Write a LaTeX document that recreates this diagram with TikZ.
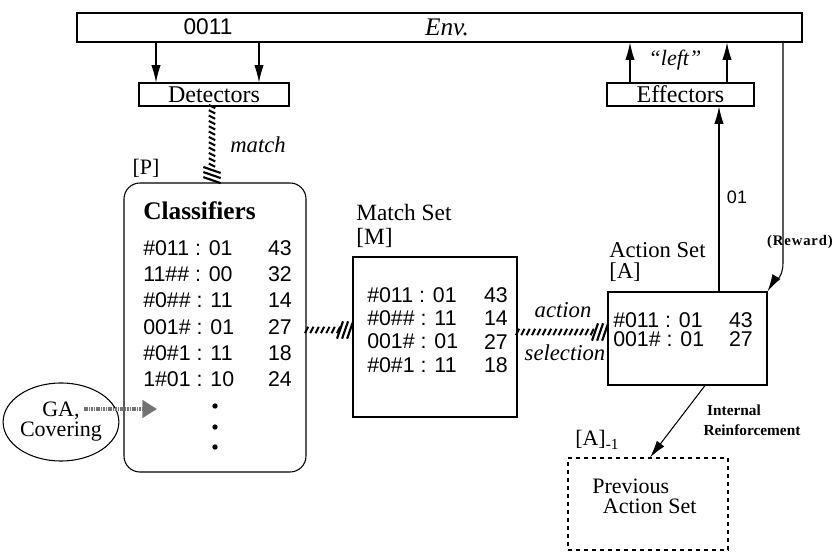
\documentclass[tikz,border=0pt]{standalone}
\usepackage{fontspec}
\setmainfont{Liberation Serif}
\newfontfamily\hv{Liberation Sans}
\usetikzlibrary{arrows.meta,shapes.geometric,decorations.markings}

\begin{document}
\begin{tikzpicture}[x=0.75pt,y=-0.75pt,
  box/.style={draw=black,line width=0.8pt,inner sep=0pt},
  arr/.style={line width=0.8pt,-{Latex[length=13pt,width=7pt]}},
  hatch/.style={decoration={markings,
      mark=between positions 0 and -9pt step 4pt with
        {\draw[line width=1.5pt] (-1.2pt,-2.4pt) -- (1.2pt,2.4pt);},
      mark=at position 1 with
        {\foreach \k in {0,3.8,7.6} \draw[line width=1.6pt] ({-\k*1pt-4pt},-6.5pt) -- ({-\k*1pt+0.5pt},6.5pt);}},
    decorate},
  rowtxt/.style={font=\hv\fontsize{16}{18}\selectfont,inner sep=0pt},
  lbl/.style={font=\fontsize{16.5}{18}\selectfont,inner sep=0pt},
  ital/.style={font=\itshape\fontsize{17}{18}\selectfont,inner sep=0pt},
  tiny/.style={font=\bfseries\fontsize{11.5}{12}\selectfont,inner sep=0pt}]

  \useasboundingbox (0,0) rectangle (840,552);

  % boxes
  \node[box,minimum width=543.75pt,minimum height=21.75pt] (env) at (439.5,27.5) {};
  \node[box,lbl,font=\fontsize{18}{20}\selectfont,minimum width=112.5pt,minimum height=17.25pt] (det) at (214,94.5) {Detectors};
  \node[box,lbl,font=\fontsize{18}{20}\selectfont,minimum width=110.25pt,minimum height=17.25pt] (eff) at (680.5,94.5) {Effectors};
  \node[box,rounded corners=12pt,minimum width=136.5pt,minimum height=216.75pt] (cls) at (215,327.5) {};
  \node[box,minimum width=123pt,minimum height=120pt] (mset) at (435,337) {};
  \node[box,minimum width=119.25pt,minimum height=69.75pt] (aset) at (687.5,338.5) {};
  \node[box,dashed,minimum width=120pt,minimum height=69pt] (prev) at (648,504) {};
  \node[box,ellipse,align=center,font=\fontsize{16.5}{15}\selectfont,
        minimum width=72.75pt,minimum height=58.5pt] (ga) at (61,422) {GA,\\Covering};

  % texts
  \node[rowtxt,font=\hv\fontsize{17}{18}\selectfont] (bits) at (208,27) {0011};
  \node[ital,font=\itshape\fontsize{19}{20}\selectfont] (envtxt) at (447,27) {Env.};
  \node[ital,font=\itshape\fontsize{16.5}{18}\selectfont] (left) at (675,60) {“left”};
  \node[ital] (match) at (258,145) {match};
  \node[lbl] (plbl) at (146,168) {[P]};
  \node[lbl,anchor=west,font=\bfseries\fontsize{19}{20}\selectfont] (clstitle) at (143,211) {Classifiers};
  \node[lbl,anchor=north west,align=left,font=\fontsize{17.5}{18}\selectfont] (msettitle) at (356,204) {Match Set\\{}[M]};
  \node[lbl,anchor=north west,align=left,font=\fontsize{17}{16}\selectfont] (asettitle) at (609,242) {Action Set\\{}[A]};
  \node[ital] (action) at (563,310) {action};
  \node[ital] (selection) at (565,353) {selection};
  \node[rowtxt,font=\hv\fontsize{13.5}{16}\selectfont] (out) at (737,197) {01};
  \node[tiny,font=\bfseries\fontsize{11}{12}\selectfont] (reward) at (800,242) {\addfontfeature{LetterSpace=6}(Reward)};
  \node[tiny] (internal) at (734,410) {Internal};
  \node[tiny] (reinf) at (752,430) {Reinforcement};
  \node[lbl,anchor=west] (prevlbl) at (575,440) {[A]\textsubscript{-1}};
  \node[lbl,anchor=north west,align=left,font=\fontsize{16.5}{15}\selectfont] (prevtxt) at (592,479) {Previous\\\hspace*{8pt}Action Set};

  % classifier lists
  \foreach \p/\s [count=\i] in {\#011 : 01/43, 11\#\# : 00/32, \#0\#\# : 11/14,
      001\# : 01/27, \#0\#1 : 11/18, 1\#01 : 10/24} {
    \node[rowtxt,anchor=west] (c\i) at (143,{248+26.3*(\i-1)}) {\p};
    \node[rowtxt,anchor=east] (cs\i) at (292,{248+26.3*(\i-1)}) {\s};
  }
  \foreach \y in {406,427,447}
    \fill (215,\y) circle[radius=2pt];
  \foreach \p/\s [count=\i] in {\#011 : 01/43, \#0\#\# : 11/14, 001\# : 01/27, \#0\#1 : 11/18} {
    \node[rowtxt,anchor=west] (m\i) at (367,{295+23.3*(\i-1)}) {\p};
    \node[rowtxt,anchor=east] (ms\i) at (508,{295+23.3*(\i-1)}) {\s};
  }
  \foreach \p/\s [count=\i] in {\#011 : 01/43, 001\# : 01/27} {
    \node[rowtxt,anchor=west] (a\i) at (613,{320+19.5*(\i-1)}) {\p};
    \node[rowtxt,anchor=east] (as\i) at (753,{320+19.5*(\i-1)}) {\s};
  }

  % connectors
  \draw[arr] (156,0 |- env.south) -- (156,0 |- det.north);
  \draw[arr] (259,0 |- env.south) -- (259,0 |- det.north);
  \draw[arr] (630,0 |- eff.north) -- (630,0 |- env.south);
  \draw[arr] (727,0 |- eff.north) -- (727,0 |- env.south);
  \draw[hatch] (212,0 |- det.south) -- (212,0 |- cls.north);
  \draw[hatch] (cls.east |- 0,330) -- (mset.west |- 0,330);
  \draw[hatch] (mset.east |- 0,332) -- (aset.west |- 0,332);
  \draw[arr] (719,0 |- aset.north) -- (719,0 |- eff.south);
  \coordinate (bend) at (783,263);
  \draw[arr] (783,0 |- env.south) -- (bend) .. controls (783,280) and (772,284) .. (aset.north east);
  \draw[arr] (705,0 |- aset.south) -- (650,0 |- prev.north);
  \coordinate (gaout) at (84,409);
  \coordinate (gain) at (157,409);
  \draw[black!55,line width=3.5pt,dash pattern=on 1.2pt off .6pt,-{Triangle[length=11pt,width=13pt]}]
    (gaout) -- (gain);
\end{tikzpicture}
\end{document}
